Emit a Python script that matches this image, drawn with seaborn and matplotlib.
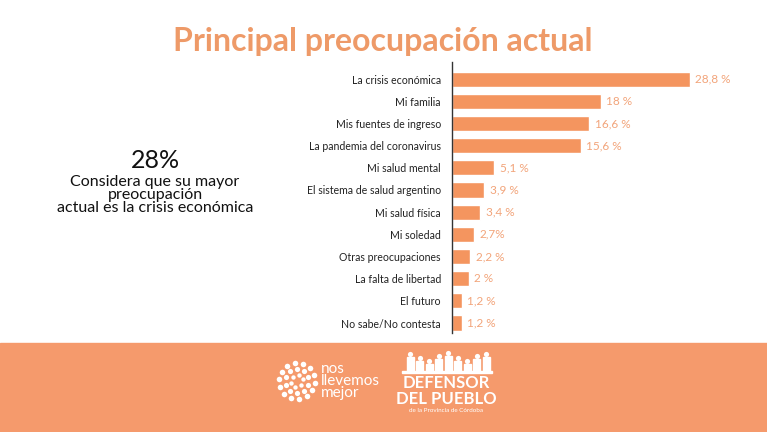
import numpy as np
import pandas as pd
from matplotlib import pyplot as plt
from matplotlib.patches import Rectangle
import seaborn as sns

categories = ['La crisis económica', 'Mi familia', 'Mis fuentes de ingreso',
              'La pandemia del coronavirus', 'Mi salud mental',
              'El sistema de salud argentino', 'Mi salud física', 'Mi soledad',
              'Otras preocupaciones', 'La falta de libertad', 'El futuro',
              'No sabe/No contesta']
values = [28.8, 18, 16.6, 15.6, 5.1, 3.9, 3.4, 2.7, 2.2, 2, 1.2, 1.2]
value_labels = ['28,8 %', '18 %', '16,6 %', '15,6 %', '5,1 %', '3,9 %',
                '3,4 %', '2,7%', '2,2 %', '2 %', '1,2 %', '1,2 %']

df = pd.DataFrame({'cat': categories, 'val': values})

sns.set_theme(style='white')
plt.rcParams['font.family'] = ['Lato', 'DejaVu Sans']

bar_color = '#F4955F'
label_color = '#F2A47A'
band_color = '#F59A6C'

fig = plt.figure(figsize=(7.67, 4.32), dpi=100)
fig.patch.set_facecolor('white')

# overlay in pixel coordinates for the decorations
deco = fig.add_axes([0, 0, 1, 1], zorder=0)
deco.set_xlim(0, 767)
deco.set_ylim(432, 0)
deco.axis('off')

# footer band
deco.add_patch(Rectangle((0, 343), 767, 89, color=band_color, zorder=0))

ax = fig.add_axes([452 / 767, 1 - 333 / 432, 315 / 767, (333 - 62) / 432],
                  zorder=2)
sns.barplot(data=df, x='val', y='cat', color=bar_color, width=0.68,
            saturation=1, ax=ax)
ax.set_xlim(0, 315 / 8.26)
ax.set_ylim(11.45, -0.77)
ax.set_xlabel('')
ax.set_ylabel('')
ax.set_xticks([])
ax.tick_params(axis='y', length=0, pad=8, labelsize=7.6, labelcolor='#222222')
for s in ['top', 'right', 'bottom']:
    ax.spines[s].set_visible(False)
ax.spines['left'].set_color('#333333')
ax.spines['left'].set_linewidth(1.0)
ax.set_facecolor('none')

for i, (v, lab) in enumerate(zip(values, value_labels)):
    ax.annotate(lab, (v, i), xytext=(4, 0), textcoords='offset points',
                va='center', ha='left', fontsize=8.5, color=label_color)

# title
deco.text(383, 42, 'Principal preocupación actual', ha='center',
          va='center', fontsize=23, fontweight='bold', color='#EE9A68')

# left call-out
deco.text(155, 160, '28%', ha='center', va='center', fontsize=18,
          color='#111111')
deco.text(155, 195,
          'Considera que su mayor\npreocupación\nactual es la crisis económica',
          ha='center', va='center', fontsize=11.5, color='#111111',
          linespacing=0.95)

# "nos llevemos mejor" logo
cx, cy = 297, 381
for r, n, s in [(6, 6, 10), (12, 10, 14), (18, 14, 16)]:
    ang = np.linspace(0, 2 * np.pi, n, endpoint=False) + r * 0.13
    deco.scatter(cx + r * np.cos(ang), cy + r * np.sin(ang), s=s,
                 color='white', linewidths=0, zorder=3)
deco.text(321, 381, 'nos\nllevemos\nmejor', ha='left', va='center',
          fontsize=11, color='white', linespacing=0.8)

# "Defensor del pueblo" logo
heights = [20, 16, 13, 18, 21, 16, 13, 18, 20]
xs = np.linspace(410, 486, len(heights))
for x, h in zip(xs, heights):
    deco.add_patch(Rectangle((x - 3.5, 371 - h + 6), 7, h - 6,
                             color='white', zorder=3))
    deco.scatter([x], [371 - h + 2.5], s=14, color='white', linewidths=0,
                 zorder=3)
deco.add_patch(Rectangle((402, 371), 90, 2, color='white', zorder=3))
deco.text(446, 383, 'DEFENSOR', ha='center', va='center', fontsize=12,
          fontweight='bold', color='white')
deco.text(446, 399, 'DEL PUEBLO', ha='center', va='center', fontsize=12,
          fontweight='bold', color='white')
deco.text(446, 411, 'de la Provincia de Córdoba', ha='center', va='center',
          fontsize=4.5, color='white')

fig.savefig('out.png', dpi=100)
